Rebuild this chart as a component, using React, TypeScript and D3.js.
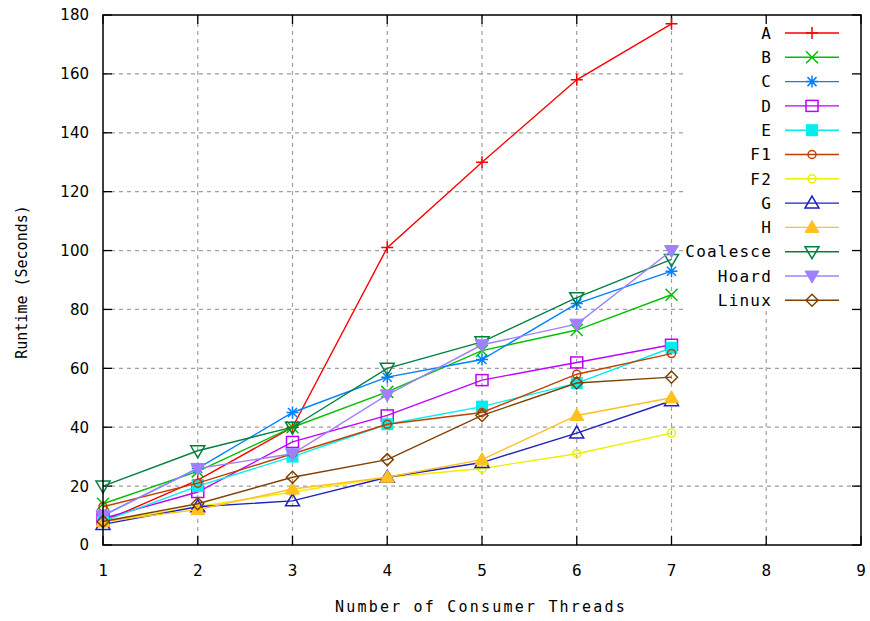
import React from "react";
import * as d3 from "d3";

// Number of consumer threads on the x axis
const threads = [1, 2, 3, 4, 5, 6, 7];

// Runtime in seconds per allocator
const seriesA = [8, 22, 40, 101, 130, 158, 177];
const seriesB = [14, 25, 40, 52, 66, 73, 85];
const seriesC = [10, 26, 45, 57, 63, 82, 93];
const seriesD = [9, 18, 35, 44, 56, 62, 68];
const seriesE = [8, 20, 30, 41, 47, 55, 67];
const seriesF1 = [13, 21, 31, 41, 45, 58, 65];
const seriesF2 = [8, 13, 18, 23, 26, 31, 38];
const seriesG = [7, 13, 15, 23, 28, 38, 49];
const seriesH = [8, 12, 19, 23, 29, 44, 50];
const seriesCoalesce = [20, 32, 40, 60, 69, 84, 97];
const seriesHoard = [10, 26, 31, 51, 68, 75, 100];
const seriesLinux = [8, 14, 23, 29, 44, 55, 57];

const names = ["A", "B", "C", "D", "E", "F1", "F2", "G", "H", "Coalesce", "Hoard", "Linux"];
const colors = [
  "#ff0000", "#00c000", "#0080ff", "#c000ff", "#00eeee", "#c04000",
  "#eeee00", "#2020c0", "#ffc020", "#008040", "#a080ff", "#804000",
];
const markers = [
  "plus", "cross", "star", "square", "squareFilled", "circle",
  "circle", "triangle", "triangleFilled", "triangleDown", "triangleDownFilled", "diamond",
];
const values = [
  seriesA, seriesB, seriesC, seriesD, seriesE, seriesF1,
  seriesF2, seriesG, seriesH, seriesCoalesce, seriesHoard, seriesLinux,
];

const xTicks = [1, 2, 3, 4, 5, 6, 7, 8, 9];
const yTicks = [0, 20, 40, 60, 80, 100, 120, 140, 160, 180];

const W = 870;
const H = 621;
const left = 103;
const right = 861;
const top = 15;
const bottom = 545;

const x = d3.scaleLinear().domain([1, 9]).range([left, right]);
const y = d3.scaleLinear().domain([0, 180]).range([bottom, top]);

const mono = "'DejaVu Sans Mono', monospace";
const sans = "'DejaVu Sans', sans-serif";

function Marker({ kind, cx, cy, color }: { kind: string; cx: number; cy: number; color: string }) {
  const s = 6;
  const sw = 1.5;
  switch (kind) {
    case "plus":
      return (
        <path d={`M${cx - s},${cy}H${cx + s}M${cx},${cy - s}V${cy + s}`} stroke={color} strokeWidth={sw} fill="none" />
      );
    case "cross":
      return (
        <path
          d={`M${cx - s},${cy - s}L${cx + s},${cy + s}M${cx - s},${cy + s}L${cx + s},${cy - s}`}
          stroke={color}
          strokeWidth={sw}
          fill="none"
        />
      );
    case "star":
      return (
        <path
          d={`M${cx - s},${cy}H${cx + s}M${cx},${cy - s}V${cy + s}M${cx - s * 0.75},${cy - s * 0.75}L${cx + s * 0.75},${cy + s * 0.75}M${cx - s * 0.75},${cy + s * 0.75}L${cx + s * 0.75},${cy - s * 0.75}`}
          stroke={color}
          strokeWidth={sw}
          fill="none"
        />
      );
    case "square":
      return <rect x={cx - s} y={cy - s + 0.5} width={2 * s} height={2 * s - 1} stroke={color} strokeWidth={sw} fill="none" />;
    case "squareFilled":
      return <rect x={cx - s} y={cy - s} width={2 * s} height={2 * s} fill={color} />;
    case "circle":
      return <circle cx={cx} cy={cy} r={4} stroke={color} strokeWidth={sw} fill="none" />;
    case "triangle":
      return (
        <path d={`M${cx},${cy - s - 1}L${cx + s + 1},${cy + s - 1}H${cx - s - 1}Z`} stroke={color} strokeWidth={sw} fill="none" />
      );
    case "triangleFilled":
      return <path d={`M${cx},${cy - s - 1}L${cx + s + 1},${cy + s - 1}H${cx - s - 1}Z`} fill={color} stroke={color} />;
    case "triangleDown":
      return (
        <path d={`M${cx},${cy + s + 1}L${cx + s + 1},${cy - s + 1}H${cx - s - 1}Z`} stroke={color} strokeWidth={sw} fill="none" />
      );
    case "triangleDownFilled":
      return <path d={`M${cx},${cy + s + 1}L${cx + s + 1},${cy - s + 1}H${cx - s - 1}Z`} fill={color} stroke={color} />;
    case "diamond":
      return (
        <path d={`M${cx},${cy - s}L${cx + s},${cy}L${cx},${cy + s}L${cx - s},${cy}Z`} stroke={color} strokeWidth={sw} fill="none" />
      );
    default:
      return null;
  }
}

export default function App() {
  const line = d3
    .line<number>()
    .x((_, i) => x(threads[i]))
    .y((d) => y(d));

  const keyTop = 33;
  const keyStep = 24.3;
  const keyTextRight = 772;
  const keyLineStart = 785;
  const keyLineEnd = 839;
  const keyMarkX = 812;

  return (
    <svg width={W} height={H} style={{ position: "absolute", left: 0, top: 0, background: "#fff" }}>
      <rect width={W} height={H} fill="#fff" />
      {/* grid */}
      <g stroke="#a0a0a0" strokeWidth={1.2} strokeDasharray="4,4">
        {xTicks.slice(1, -1).map((t) => (
          <line key={`gx${t}`} x1={x(t)} x2={x(t)} y1={top} y2={bottom} />
        ))}
        {yTicks.slice(1, -1).map((t) => (
          <line key={`gy${t}`} x1={left} x2={right} y1={y(t)} y2={y(t)} />
        ))}
      </g>
      {/* key background */}
      <rect x={683} y={top + 1} width={right - 684} height={295} fill="#fff" />

      {/* frame ticks */}
      <g stroke="#000" strokeWidth={1.3}>
        {yTicks.map((t) => (
          <g key={`ty${t}`}>
            <line x1={left} x2={left + 9} y1={y(t)} y2={y(t)} />
            <line x1={right - 9} x2={right} y1={y(t)} y2={y(t)} />
          </g>
        ))}
        {xTicks.map((t) => (
          <g key={`tx${t}`}>
            <line x1={x(t)} x2={x(t)} y1={bottom} y2={bottom - 9} />
            <line x1={x(t)} x2={x(t)} y1={top} y2={top + 9} />
          </g>
        ))}
      </g>

      {/* series */}
      {values.map((vals, k) => (
        <g key={names[k]}>
          <path d={line(vals) || ""} stroke={colors[k]} strokeWidth={1.4} fill="none" />
          {vals.map((v, i) => (
            <Marker key={i} kind={markers[k]} cx={x(threads[i])} cy={y(v)} color={colors[k]} />
          ))}
        </g>
      ))}

      {/* key */}
      {names.map((n, k) => {
        const ky = keyTop + k * keyStep;
        return (
          <g key={`key${n}`}>
            <text
              x={keyTextRight}
              y={ky}
              dy="0.36em"
              textAnchor="end"
              fontFamily={mono}
              fontSize={16}
              letterSpacing={1.2}
              fill="#000"
            >
              {n}
            </text>
            <line x1={keyLineStart} x2={keyLineEnd} y1={ky} y2={ky} stroke={colors[k]} strokeWidth={1.4} />
            <Marker kind={markers[k]} cx={keyMarkX} cy={ky} color={colors[k]} />
          </g>
        );
      })}

      {/* frame */}
      <rect x={left} y={top} width={right - left} height={bottom - top} fill="none" stroke="#000" strokeWidth={1.5} />

      {/* tick labels */}
      {yTicks.map((t) => (
        <text key={`ly${t}`} x={89} y={y(t)} dy="0.36em" textAnchor="end" fontFamily={sans} fontSize={15} fill="#000">
          {t}
        </text>
      ))}
      {xTicks.map((t) => (
        <text key={`lx${t}`} x={x(t)} y={570} dy="0.36em" textAnchor="middle" fontFamily={mono} fontSize={16} fill="#000">
          {t}
        </text>
      ))}

      {/* axis titles */}
      <text
        x={481}
        y={607}
        dy="0.36em"
        textAnchor="middle"
        fontFamily={mono}
        fontSize={15}
        letterSpacing={2.2}
        fill="#000"
      >
        Number of Consumer Threads
      </text>
      <text
        transform="translate(22,282) rotate(-90)"
        dy="0.36em"
        textAnchor="middle"
        fontFamily={mono}
        fontSize={15}
        fill="#000"
      >
        Runtime (Seconds)
      </text>
    </svg>
  );
}
